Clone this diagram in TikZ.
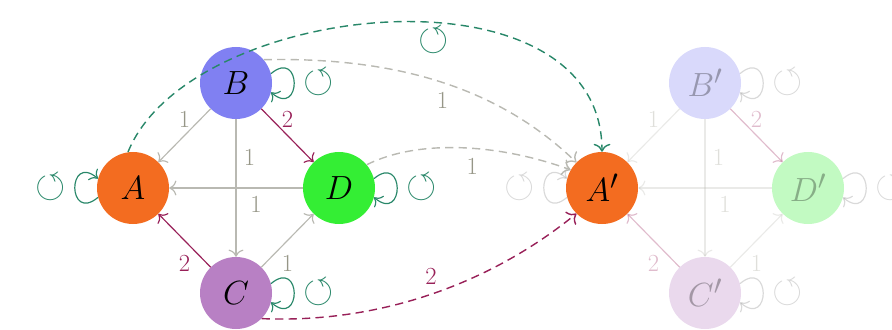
\documentclass[tikz,border=0pt]{standalone}
\usepackage{fontspec}
\usepackage{amssymb}
\usepackage{graphicx}
\usetikzlibrary{positioning,arrows.meta}

\definecolor{nodeA}{RGB}{243,108,32}
\definecolor{nodeB}{RGB}{128,128,242}
\definecolor{nodeC}{RGB}{184,128,196}
\definecolor{nodeD}{RGB}{52,238,52}
\definecolor{wine}{RGB}{152,32,88}
\definecolor{loopteal}{RGB}{40,135,105}
\definecolor{edgegray}{RGB}{185,185,178}
\definecolor{numgray}{RGB}{150,150,135}
\newcommand{\ccw}{\scalebox{1.6}{$\circlearrowleft$}}
\newcommand{\vlab}[1]{\scalebox{1.15}{$#1$}}

\begin{document}
\begin{tikzpicture}[x=0.3mm,y=0.3mm,
    node distance=31.5mm and 30.9mm, on grid,
    >={To[scale=1.6]},
    vert/.style={circle,minimum size=21.6mm,inner sep=0pt,font=\fontsize{24.88}{27}\selectfont},
    arr/.style={->,line width=1pt},
    gedge/.style={arr,draw=edgegray},
    wedge/.style={arr,draw=wine},
    dedge/.style={arr,line width=1.2pt,dash pattern=on 7pt off 4.5pt},
    selfloop/.style={arr,draw=loopteal,looseness=5.5},
    num/.style={font=\fontsize{21}{23}\selectfont,text=numgray},
    wnum/.style={num,text=wine},
    rot/.style={font=\fontsize{20.74}{23}\selectfont,text=loopteal}
]
\useasboundingbox (0,0) rectangle (892,329);

\node[vert,fill=nodeA] (A) at (133,141) {\vlab{A}};
\node[vert,fill=nodeB,above right=of A] (B) {\vlab{B}};
\node[vert,fill=nodeD,below right=of B] (D) {\vlab{D}};
\node[vert,fill=nodeC,below left=of D] (C) {\vlab{C}};

\draw[gedge] (B) -- node[num,above=1mm]{1} (A);
\draw[wedge] (B) -- node[wnum,above=1mm]{2} (D);
\draw[gedge] (B) -- node[num,pos=0.28,right=1mm]{1} (C);
\draw[gedge] (D) -- node[num,pos=0.35,below=1mm]{1} (A);
\draw[wedge] (C) -- node[wnum,below=3mm]{2} (A);
\draw[gedge] (C) -- node[num,below=3mm]{1} (D);

\draw[selfloop] (A.195) to[out=-140,in=140] node[rot,left=1.5mm]{\ccw} (A.165);
\draw[selfloop] (B.15) to[out=40,in=-40] node[rot,right=1.5mm]{\ccw} (B.-15);
\draw[selfloop] (D.15) to[out=40,in=-40] node[rot,right=1.5mm]{\ccw} (D.-15);
\draw[selfloop] (C.15) to[out=40,in=-40] node[rot,right=1.5mm]{\ccw} (C.-15);

\node[vert,fill=nodeA,right=140.7mm of A] (A2) {\vlab{A'}};

\begin{scope}[opacity=0.3]
\node[vert,fill=nodeB,above right=of A2] (B2) {\vlab{B'}};
\node[vert,fill=nodeD,below right=of B2] (D2) {\vlab{D'}};
\node[vert,fill=nodeC,below left=of D2] (C2) {\vlab{C'}};

\draw[gedge] (B2) -- node[num,above=1mm]{1} (A2);
\draw[wedge] (B2) -- node[wnum,above=1mm]{2} (D2);
\draw[gedge] (B2) -- node[num,pos=0.28,right=1mm]{1} (C2);
\draw[gedge] (D2) -- node[num,pos=0.35,below=1mm]{1} (A2);
\draw[wedge] (C2) -- node[wnum,below=3mm]{2} (A2);
\draw[gedge] (C2) -- node[num,below=3mm]{1} (D2);

\draw[selfloop,draw=gray] (A2.195) to[out=-140,in=140] node[rot,text=gray,left=1.5mm]{\ccw} (A2.165);
\draw[selfloop,draw=gray] (B2.15) to[out=40,in=-40] node[rot,text=gray,right=1.5mm]{\ccw} (B2.-15);
\draw[selfloop,draw=gray] (D2.15) to[out=40,in=-40] node[rot,text=gray,right=1.5mm]{\ccw} (D2.-15);
\draw[selfloop,draw=gray] (C2.15) to[out=40,in=-40] node[rot,text=gray,right=1.5mm]{\ccw} (C2.-15);
\end{scope}

\draw[dedge,draw=loopteal] (A.98) .. controls +(62,153) and +(0,193) .. node[rot,pos=0.57,below=0.3mm]{\ccw} (A2.90);
\draw[dedge,draw=edgegray] (B.40) .. controls +(136,3) and +(-76,73) .. node[num,pos=0.5,below=1.5mm]{1} (A2.135);
\draw[dedge,draw=edgegray] (D.40) .. controls +(52,26) and +(-71,26) .. node[num,pos=0.55,below=1.5mm]{1} (A2.150);
\draw[dedge,draw=wine] (C.-45) .. controls +(118,-5) and +(-86,-70) .. node[wnum,pos=0.5,above=1.5mm]{2} (A2.225);
\end{tikzpicture}
\end{document}
